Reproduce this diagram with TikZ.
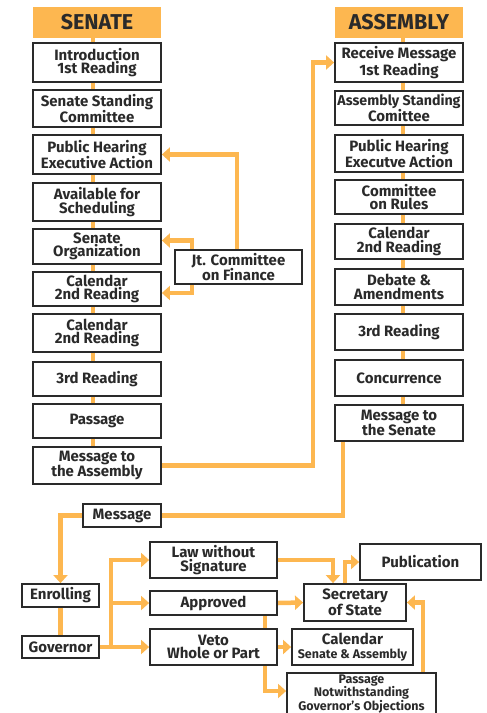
\documentclass[tikz,border=0pt]{standalone}
\usepackage{fontspec}
\setmainfont{Fira Sans}
\usetikzlibrary{arrows.meta,backgrounds,calc}
\definecolor{org}{HTML}{FDB750}
\definecolor{ink}{HTML}{2A2A2A}
\tikzset{
  box/.style={draw=ink,line width=1.8pt,fill=white,align=center,inner sep=0pt,
    font=\bfseries\fontsize{15}{13.5}\selectfont,text=ink},
  head/.style={fill=org,align=center,inner sep=0pt,font=\bfseries\fontsize{21.5}{21.5}\selectfont,text=ink},
  conn/.style={draw=org,line width=4.5pt},
  arr/.style={conn,-{Triangle[width=14pt,length=8pt]}},
}
\newcommand{\bx}[6]{% name, x1, y1, x2, y2, text
  \node[box,minimum width={#4-#2},minimum height={#5-#3}] (#1) at ({(#2+#4)/2},{(#3+#5)/2}) {#6};}
\newcommand{\smf}[1]{{\fontsize{12.5}{11.5}\selectfont #1}}
\begin{document}
\begin{tikzpicture}[x=1pt,y=-1pt]
\useasboundingbox (0,0) rectangle (487,713);
\clip (0,0) rectangle (487,713);
% headers
\node[head,minimum width=128,minimum height=31] (senate) at (97,22.5) {SENATE};
\node[head,minimum width=128,minimum height=31] (assembly) at (399,22.5) {ASSEMBLY};
% Senate column
\bx{intro}{33}{43}{161}{82}{Introduction\\1st Reading}
\bx{ssc}{33}{90}{161}{127}{Senate Standing\\Committee}
\bx{sph}{33}{135}{161}{174}{Public Hearing\\Executive Action}
\bx{avail}{33}{183}{161}{221}{Available for\\Scheduling}
\bx{senorg}{33}{229}{161}{264}{Senate\\Organization}
\bx{scalA}{33}{272}{161}{306}{Calendar\\2nd Reading}
\bx{scalB}{33}{314}{161}{352}{Calendar\\2nd Reading}
\bx{sthird}{33}{362}{161}{396}{3rd Reading}
\bx{spass}{33}{404}{161}{438}{Passage}
\bx{msgasm}{33}{447}{161}{484}{Message to\\the Assembly}
% Jt committee
\bx{jt}{175}{250}{302}{284}{Jt. Committee\\on Finance}
% Assembly column
\bx{receive}{335}{43}{463}{82}{Receive Message\\1st Reading}
\bx{asc}{335}{91}{463}{125}{{\fontsize{14.2}{13.5}\selectfont Assembly Standing}\\Comittee}
\bx{aph}{335}{135}{463}{172}{Public Hearing\\Executve Action}
\bx{rules}{335}{180}{463}{214}{Committee\\on Rules}
\bx{acal}{335}{224}{463}{259}{Calendar\\2nd Reading}
\bx{debate}{335}{269}{463}{305}{Debate \&\\Amendments}
\bx{athird}{335}{314}{463}{350}{3rd Reading}
\bx{concur}{335}{360}{463}{396}{Concurrence}
\bx{msgsen}{335}{405}{463}{441}{Message to\\the Senate}
% bottom
\bx{message}{83}{504}{161}{527}{Message}
\bx{enroll}{22}{584}{99}{607}{Enrolling}
\bx{governor}{22}{636}{99}{658}{Governor}
\bx{law}{150}{542}{277}{578}{Law without\\Signature}
\bx{approved}{150}{591}{277}{615}{Approved}
\bx{veto}{150}{629}{277}{665}{Veto\\Whole or Part}
\bx{sec}{304}{584}{406}{621}{Secretary\\of State}
\bx{pub}{360}{544}{481}{580}{Publication}
\bx{cal}{292}{629}{413}{665}{Calendar\\{\fontsize{12.5}{12}\selectfont Senate \& Assembly}}
\bx{passnot}{287}{673}{436}{715}{\smf{Passage}\\\smf{Notwithstanding}\\\smf{Governor's Objections}}
\coordinate (g1) at (111,647);
\coordinate (c1) at (313,0);
\begin{scope}[on background layer]
  % column spines
  \draw[conn] ([xshift=-4pt]senate.south) -- ([xshift=-4pt]msgasm.north);
  \draw[conn] ([xshift=4pt]assembly.south) -- ([xshift=4pt]msgsen.north);
  % Jt committee
  \draw[arr] ([xshift=-1.5pt]jt.north) |- (sph.east);
  \draw[arr] ([xshift=18pt]jt.west) |- ([yshift=6pt]senorg.east);
  \draw[arr] ([xshift=18pt]jt.west) |- ([yshift=-4pt]scalA.east);
  % cross-over
  \draw[arr] (msgasm.east) -- (msgasm.east -| c1) -- (receive.west -| c1) -- (receive.west);
  \draw[conn] ([xshift=-56pt]msgsen.south) |- (message.east);
  \draw[arr] (message.west) -| (enroll.north);
  \draw[conn] (enroll) -- (governor);
  % governor
  \draw[arr] (governor.east) -- (veto.west);
  \draw[arr] (g1) |- (approved.west);
  \draw[arr] (g1) |- (law.west);
  \draw[arr] (law.east) -| ([xshift=-22pt]sec.north);
  \draw[arr] (approved.east) -- (sec.west);
  \draw[arr] ([xshift=-10pt]sec.north) |- (pub.west);
  \draw[arr] ([xshift=51.5pt]approved.south) |- ([yshift=3pt]passnot.west);
  \draw[arr] (veto.east) -- (cal.west);
  \draw[arr] ([xshift=61.5pt]passnot.north) |- (sec.east);
\end{scope}
\end{tikzpicture}
\end{document}
